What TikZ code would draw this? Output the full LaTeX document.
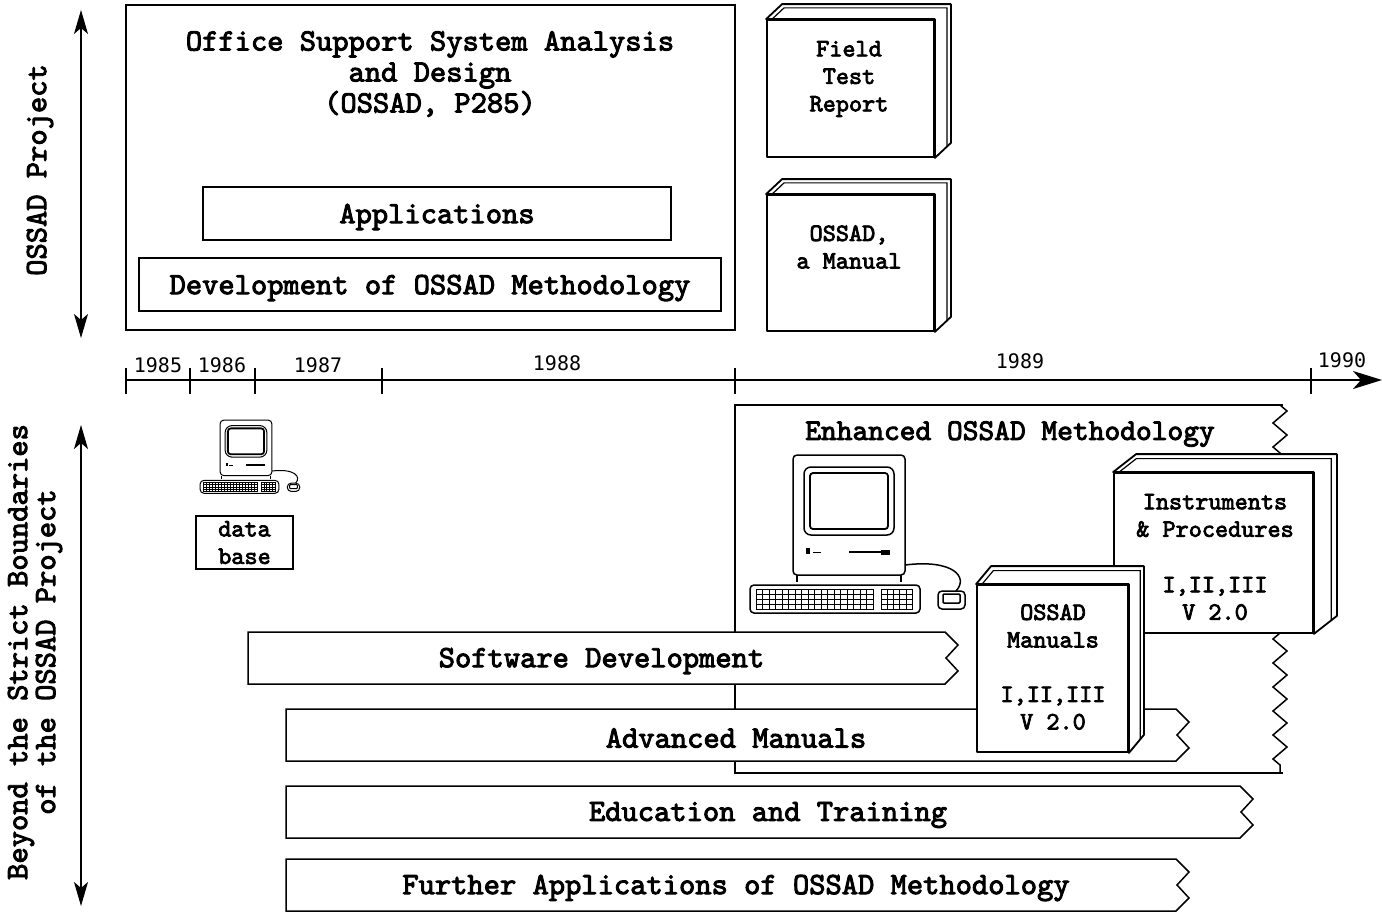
\documentclass[tikz,border=0pt]{standalone}
\usepackage{fontspec}
\newfontfamily\yearfont{DejaVu Sans Mono}
\newfontfamily\courb{lmmono10-regular.otf}[FakeBold=3]
\usetikzlibrary{arrows.meta,calc,decorations.pathmorphing}

\newcommand\bigtt{\courb\fontsize{31}{31}\selectfont}
\newcommand\midtt{\courb\fontsize{25}{27.5}\selectfont}
\newcommand\yeartt{\yearfont\fontsize{20}{20}\selectfont}

\tikzset{
  plainbox/.style={draw, fill=white, inner sep=0pt, align=center, text depth=0pt},
  bookface/.style={draw, fill=white, line width=1.8pt, line join=round, inner sep=0pt},
  booktxt/.style={font=\midtt, align=center, inner sep=0pt},
  torn/.style={draw, fill=white, line join=miter},
  yearlbl/.style={font=\yeartt, inner sep=0pt},
  sidelbl/.style={font=\bigtt, rotate=90, align=center, inner sep=0pt},
  span/.style={{Stealth[length=24pt,width=14pt,inset=6pt]}-{Stealth[length=24pt,width=14pt,inset=6pt]}, line width=1.2pt},
  % desktop computer with keyboard and mouse
  mac/.pic={
    \draw[rounded corners=4pt] (0,0) rectangle (112,120);
    \draw[rounded corners=7pt] (11,12) rectangle (101,80);
    \draw[line width=1.8pt, rounded corners=3pt] (17,18) rectangle (95,74);
    \draw (4,120) -- (4,127) (108,120) -- (108,127);
    \fill (13,93) rectangle (17,99);
    \draw[line width=0.8pt] (20,97) -- (28,97);
    \draw[line width=1.2pt] (56,97) -- (90,97);
    \fill (88,94.5) rectangle (97,99.5);
    \draw[rounded corners=4pt] (-43,130) rectangle (127,158);
    \foreach \kr in {0,...,3} {
      \foreach \kk in {0,...,17}
        \draw[line width=0.4pt] ({-37+6.5*\kk},{134+5*\kr}) rectangle ++(6.5,5);
      \foreach \kk in {0,...,4}
        \draw[line width=0.4pt] ({88+6.2*\kk},{134+5*\kr}) rectangle ++(6.2,5);
    }
    \draw[rounded corners=4pt] (145,136) rectangle (172,154);
    \draw[rounded corners=1pt] (150,139) rectangle (167,148);
    \draw (112,110) .. controls (160,104) and (176,122) .. (163,136);
  }
}

\begin{document}
\begin{tikzpicture}[x=1pt, y=-1pt, line width=1.5pt]
\useasboundingbox (0,0) rectangle (1382,913);

% side arrows and their labels
\coordinate (projtop) at (81,10);
\coordinate (projbot) at (81,338);
\coordinate (beytop) at (81,425);
\coordinate (beybot) at (81,906);
\draw[span] (projtop) -- (projbot);
\draw[span] (beytop) -- (beybot);
\node[sidelbl] (projlbl) at (40,170) {OSSAD Project};
\node[sidelbl, font={\courb\fontsize{31}{28}\selectfont}] (beylbl) at (35,652)
  {Beyond the Strict Boundaries\\of the OSSAD Project};

% the project itself
\node[draw, minimum width=609, minimum height=325, inner sep=0pt] (ossad) at (430.5,167.5) {};
\node[font=\bigtt, align=center, inner sep=0pt] (ossadtitle) at (430,74)
  {Office Support System Analysis\\and Design\\(OSSAD, P285)};
\node[plainbox, font=\bigtt, minimum width=468, minimum height=53] (apps) at (437,213.5) {Applications};
\node[plainbox, font=\bigtt, minimum width=582, minimum height=53] (devel) at (430,284.5) {Development of OSSAD Methodology};

% time axis
\coordinate (t0) at (126,380);
\coordinate (tend) at (1382,380);
\draw[line width=1.8pt, -{Stealth[length=29pt,width=18pt,inset=8pt]}] (t0) -- (tend);
\foreach \tx in {126,190,255,382,735,1311}
  \draw[line width=1.6pt] (\tx,368) -- (\tx,394);
\foreach \tx/\ty/\yr in {158/365/1985, 222/365/1986, 318/365/1987, 557/363/1988, 1020/361/1989, 1342/360/1990}
  \node[yearlbl] (y\yr) at (\tx,\ty) {\yr};

% early data base
\pic[scale=0.464, line width=1pt] (smallmac) at (220,420) {mac};
\node[plainbox, font=\midtt, minimum width=97, minimum height=53] (dbase) at (244.5,542.5) {data\\base};

% enhanced methodology, torn on the right
\draw (1283,405) -- (735,405) -- (735,773) -- (1283,773);
\draw[decorate, decoration={zigzag, segment length=24pt, amplitude=7pt}] (1280,405) -- (1280,773);
\node[font={\courb\fontsize{30}{30}\selectfont}, inner sep=0pt] (enhtitle) at (1010,434) {Enhanced OSSAD Methodology};

% running activities
\foreach \bx/\by/\bend/\bname/\btext in {248/632/945/swdev/Software Development,
    286/709/1176/advman/Advanced Manuals,
    286/786/1240/edu/Education and Training,
    286/859/1176/further/Further Applications of OSSAD Methodology} {
  \draw[torn] (\bx,\by) -- (\bend,\by) -- ++(13,13) -- ++(-12,13) -- ++(12,13)
    -- (\bend,\by+52) -- (\bx,\by+52) -- cycle;
  \node[font=\bigtt, inner sep=0pt] (\bname) at ({(\bx+\bend)/2+5},\by+29) {\btext};
}

\pic (bigmac) at (793,455) {mac};

% books
\node[bookface, minimum width=167, minimum height=137] (report) at (850.5,88.5) {};
\node[bookface, minimum width=167, minimum height=136] (manual) at (850.5,263) {};
\node[bookface, minimum width=199, minimum height=160] (instr) at (1213.5,553) {};
\node[bookface, minimum width=151, minimum height=167] (manuals) at (1052.5,668.5) {};
\foreach \bk/\dx/\dy in {report/16/15, manual/16/15, instr/23/18, manuals/15/18} {
  \draw[bookface] (\bk.north west) -- ++(\dx,-\dy) -- ($(\bk.north east)+(\dx,-\dy)$)
    -- ($(\bk.south east)+(\dx,-\dy)$) -- (\bk.south east) -- (\bk.north east) -- cycle;
  \draw[line width=1.2pt] ($(\bk.north west)+(6,0)$) -- ($(\bk.north west)+(6,0)+0.75*(\dx,-\dy)$)
    -- ($(\bk.north east)+0.75*(\dx,-\dy)$) -- ($(\bk.south east)+0.75*(\dx,-\dy)$);
}
\node[booktxt] (reportlbl) at (849,79) {Field\\Test\\Report};
\node[booktxt] (manuallbl) at (849,247) {OSSAD,\\a Manual};
\node[booktxt] (instrlbl) at (1215,557) {Instruments\\\& Procedures\\[28pt]I,II,III\\V 2.0};
\node[booktxt] (manualslbl) at (1053,667) {OSSAD\\Manuals\\[27pt]I,II,III\\V 2.0};
\end{tikzpicture}
\end{document}
